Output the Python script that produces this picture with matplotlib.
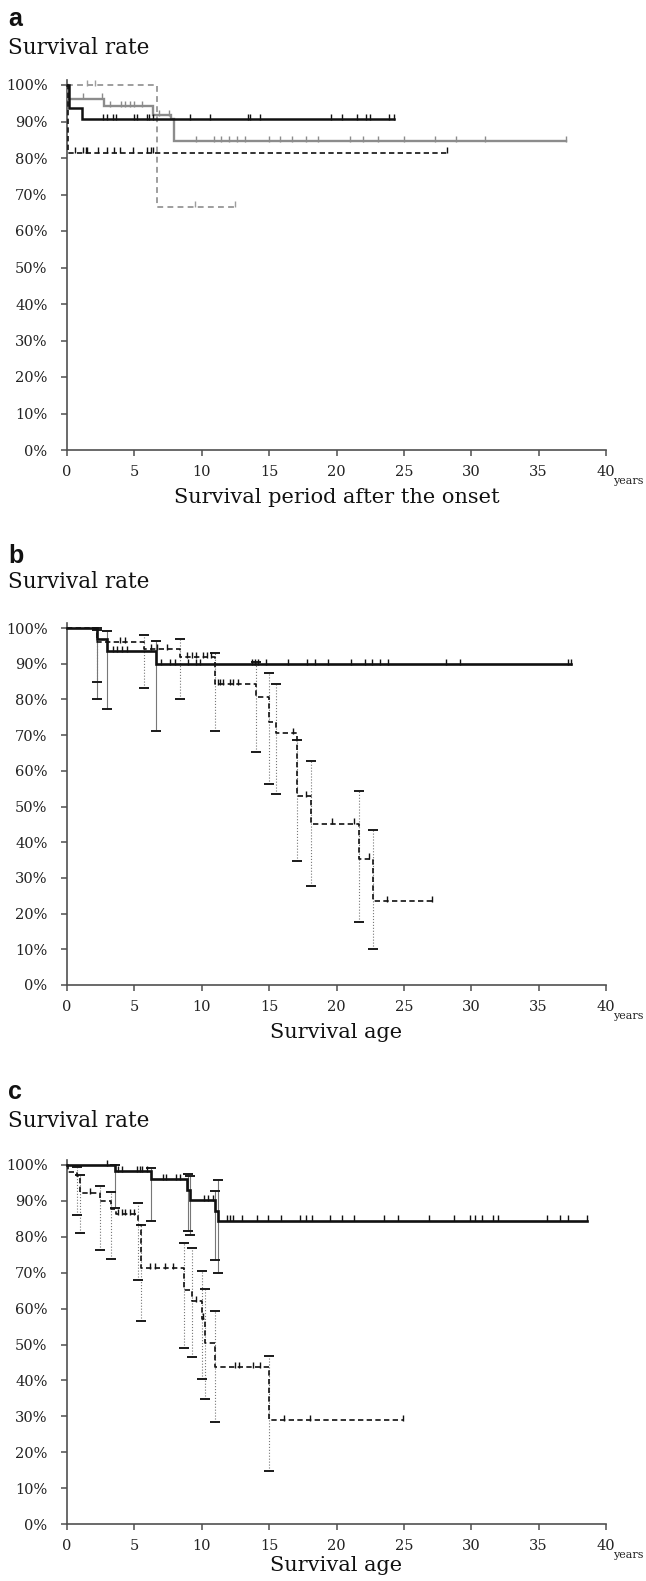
import matplotlib
matplotlib.use("Agg")
import matplotlib.pyplot as plt
import numpy as np

# ---------------- data ----------------
# Panel a
a_black_t = [0, 0.15, 1.15]
a_black_s = [100, 93.8, 90.6]
a_black_end = 24.3
a_black_cens = [2.7, 3.0, 3.4, 3.65, 5.0, 5.2, 5.9, 6.1, 6.4, 9.1, 10.6, 13.4, 13.6, 14.3,
                19.6, 20.4, 21.5, 22.2, 22.5, 23.9, 24.3]
a_gray_t = [0, 0.1, 2.75, 6.4, 7.75, 7.95]
a_gray_s = [100, 96.3, 94.3, 91.7, 90.6, 84.6]
a_gray_end = 37.0
a_gray_cens = [1.2, 2.6, 3.2, 4.0, 4.3, 4.7, 5.0, 5.6, 6.8, 7.6,
               9.6, 10.9, 11.4, 12.0, 12.6, 13.2, 15.0, 15.8, 16.7, 17.7, 18.6,
               21.0, 22.0, 23.1, 25.0, 27.3, 28.9, 31.0, 37.0]
a_bdash_t = [0, 0.1]
a_bdash_s = [100, 81.5]
a_bdash_end = 28.2
a_bdash_cens = [0.6, 1.2, 1.4, 1.5, 2.3, 3.0, 3.5, 3.95, 4.9, 5.9, 6.2, 6.4, 28.2]
a_gdash_t = [0, 6.7]
a_gdash_s = [100, 66.7]
a_gdash_end = 12.5
a_gdash_cens = [1.5, 2.1, 9.5, 12.5]

# Panel b
b_black_t = [0, 2.2, 3.0, 6.6]
b_black_s = [100, 96.9, 93.6, 89.9]
b_black_end = 37.4
b_black_cens = [3.4, 3.7, 4.1, 4.45, 7.0, 7.65, 8.0, 9.0, 9.6, 9.9, 13.7, 13.95, 14.2, 14.8,
                16.4, 17.8, 18.4, 19.4, 21.1, 22.1, 22.6, 23.2, 23.8, 28.1, 29.2, 37.2, 37.4]
b_black_ci_t = [2.2, 3.0, 6.6]
b_black_ci_hi = [100.0, 99.2, 96.3]
b_black_ci_lo = [80.0, 77.3, 71.1]
b_dash_t = [0, 2.2, 5.7, 8.4, 11.0, 14.0, 15.0, 15.5, 17.1, 18.1, 21.7, 22.7]
b_dash_s = [100, 96.0, 94.2, 91.8, 84.3, 80.7, 73.7, 70.5, 52.9, 45.2, 35.4, 23.6]
b_dash_end = 27.2
b_dash_cens = [3.95, 4.3, 6.2, 6.65, 7.4, 8.9, 9.25, 9.6, 10.1, 10.4, 10.7,
               11.2, 11.35, 11.6, 12.1, 12.35, 12.7, 16.8, 17.7, 19.7, 21.3, 22.4, 23.75, 27.1]
b_dash_ci_t = [2.2, 5.7, 8.4, 11.0, 14.0, 15.0, 15.5, 17.1, 18.1, 21.7, 22.7]
b_dash_ci_hi = [99.5, 97.9, 96.9, 93.0, 90.5, 87.3, 84.2, 68.6, 62.8, 54.4, 43.3]
b_dash_ci_lo = [85.0, 83.2, 80.0, 71.1, 65.2, 56.3, 53.5, 34.8, 27.8, 17.6, 10.2]

# Panel c
c_black_t = [0, 3.56, 6.2, 8.9, 9.1, 11.0, 11.2]
c_black_s = [100, 98.3, 96.0, 93.1, 90.3, 87.3, 84.5]
c_black_end = 38.6
c_black_cens = [3.0, 3.75, 4.1, 5.2, 5.45, 5.6, 5.9, 7.1, 7.35, 8.1, 8.4, 10.2, 10.45, 10.8,
                11.85, 12.1, 12.3, 13.0, 14.1, 14.9, 15.9, 17.3, 17.7, 18.2, 19.5, 20.4, 21.3,
                23.5, 24.6, 26.9, 28.7, 29.9, 30.3, 30.8, 31.6, 32.0, 35.6, 36.6, 37.2, 38.6]
c_black_ci_t = [3.56, 6.2, 8.95, 9.1, 11.0, 11.2]
c_black_ci_hi = [100.0, 99.2, 97.6, 96.9, 92.7, 95.8]
c_black_ci_lo = [88.0, 84.4, 81.5, 80.4, 73.4, 69.9]
c_dash_t = [0, 0.1, 0.72, 1.0, 2.45, 3.3, 3.6, 5.3, 5.5, 8.7, 9.25, 10.0, 10.25, 11.0, 15.0]
c_dash_s = [100, 98.1, 96.9, 92.2, 90.0, 87.8, 86.4, 83.3, 71.3, 65.2, 62.2, 57.2, 50.4, 43.8, 29.0]
c_dash_end = 24.9
c_dash_cens = [1.7, 3.8, 4.05, 4.3, 4.7, 4.95, 6.15, 6.5, 7.3, 7.9, 9.6, 10.1,
               12.5, 12.8, 13.8, 14.3, 16.1, 18.0, 24.9]
c_dash_ci_t = [0.72, 1.0, 2.45, 3.3, 5.3, 5.5, 8.7, 9.25, 10.0, 10.25, 11.0, 15.0]
c_dash_ci_hi = [99.4, 97.3, 94.1, 92.5, 89.4, 83.3, 78.4, 76.8, 70.6, 65.4, 59.3, 46.9]
c_dash_ci_lo = [86.2, 81.0, 76.2, 73.9, 68.0, 56.5, 49.0, 46.4, 40.5, 34.7, 28.3, 14.7]

panel_letters = ["a", "b", "c"]
ylabels = ["Survival rate", "Survival rate", "Survival rate"]
xlabels = ["Survival period after the onset", "Survival age", "Survival age"]
xticks = [0, 5, 10, 15, 20, 25, 30, 35, 40]
yticks = [0, 10, 20, 30, 40, 50, 60, 70, 80, 90, 100]

# ---------------- layout ----------------
W, H = 646, 1581
SERIF = ["DejaVu Serif"]
SANS = ["Liberation Sans", "DejaVu Sans"]
BLACK = "#111111"
GRAY = "#8c8c8c"
GDASH = "#9e9e9e"
AXC = "#505050"

fig = plt.figure(figsize=(W / 100, H / 100), dpi=100)

# (pixel y of 0%, pixel y of 100%, letter baseline, ylabel baseline, xlabel pad)
panels_px = [(450, 85, 26, 54, 6), (985, 628, 563, 588, 6), (1524, 1165, 1099, 1127, 2)]
x0px, x40px = 67, 606


def step_val(ts, ss, x):
    idx = np.searchsorted(np.asarray(ts), x, side="right") - 1
    return np.asarray(ss)[np.clip(idx, 0, len(ss) - 1)]


def draw_curve(ax, ts, ss, end, cens, color, lw, dashed=False, dashes=(3.2, 2.0)):
    xs = list(ts) + [end]
    ys = list(ss) + [ss[-1]]
    ln, = ax.step(xs, ys, where="post", color=color, lw=lw, clip_on=False,
                  solid_joinstyle="miter", zorder=4)
    if dashed:
        ln.set_dashes(dashes)
    cy = step_val(ts, ss, np.asarray(cens))
    ax.plot(cens, cy + 0.6, ls="none", marker="|", ms=4.5, mew=1.0, color=color,
            clip_on=False, zorder=5)


def draw_ci(ax, ts, hi, lo, style):
    ax.vlines(ts, lo, hi, colors="#777777", linestyles=style, lw=0.8, zorder=3)
    ax.plot(ts, hi, ls="none", marker="_", ms=7.5, mew=1.4, color="#1a1a1a", zorder=3,
            clip_on=False)
    ax.plot(ts, lo, ls="none", marker="_", ms=7.5, mew=1.4, color="#1a1a1a", zorder=3)


axes = []
for i, (y0, y100, lb, yb, lpad) in enumerate(panels_px):
    ppu = (y0 - y100) / 100.0
    top = y0 - 101.5 * ppu
    ax = fig.add_axes([x0px / W, 1 - y0 / H, (x40px - x0px) / W, (y0 - top) / H])
    ax.set_xlim(0, 40)
    ax.set_ylim(0, 101.5)
    for s in ["top", "right"]:
        ax.spines[s].set_visible(False)
    for s in ["left", "bottom"]:
        ax.spines[s].set_color(AXC)
        ax.spines[s].set_linewidth(1.2)
    ax.set_xticks(xticks)
    ax.set_xticklabels([str(v) for v in xticks], family=SERIF, fontsize=10.5)
    ax.set_yticks(yticks)
    ax.set_yticklabels([f"{v}%" for v in yticks], family=SERIF, fontsize=10.5)
    ax.tick_params(axis="both", direction="out", length=4, width=1.1, color=AXC,
                   labelcolor="#222222")
    ax.tick_params(axis="y", pad=10)
    ax.tick_params(axis="x", pad=7)
    fig.text(8 / W, 1 - lb / H, panel_letters[i], family=SANS, fontsize=18,
             fontweight="bold", va="baseline", ha="left", color="#111111")
    fig.text(8 / W, 1 - yb / H, ylabels[i], family=SERIF, fontsize=15.5,
             va="baseline", ha="left", color="#111111")
    ax.annotate("years", xy=(40, 0), xycoords="data", xytext=(7, -31),
                textcoords="offset pixels", family=SERIF, fontsize=8,
                ha="left", va="center", color="#222222", annotation_clip=False)
    ax.set_xlabel(xlabels[i], family=SERIF, fontsize=15, labelpad=lpad, color="#111111")
    axes.append(ax)

# Panel a
ax = axes[0]
draw_curve(ax, a_gdash_t, a_gdash_s, a_gdash_end, a_gdash_cens, GDASH, 1.4, dashed=True,
           dashes=(3.0, 2.2))
draw_curve(ax, a_gray_t, a_gray_s, a_gray_end, a_gray_cens, GRAY, 1.7)
draw_curve(ax, a_bdash_t, a_bdash_s, a_bdash_end, a_bdash_cens, BLACK, 1.2, dashed=True)
draw_curve(ax, a_black_t, a_black_s, a_black_end, a_black_cens, BLACK, 1.8)

# Panel b
ax = axes[1]
draw_ci(ax, b_black_ci_t, b_black_ci_hi, b_black_ci_lo, "solid")
draw_ci(ax, b_dash_ci_t, b_dash_ci_hi, b_dash_ci_lo, "dotted")
draw_curve(ax, b_dash_t, b_dash_s, b_dash_end, b_dash_cens, BLACK, 1.2, dashed=True)
draw_curve(ax, b_black_t, b_black_s, b_black_end, b_black_cens, BLACK, 1.9)

# Panel c
ax = axes[2]
draw_ci(ax, c_black_ci_t, c_black_ci_hi, c_black_ci_lo, "solid")
draw_ci(ax, c_dash_ci_t, c_dash_ci_hi, c_dash_ci_lo, "dotted")
draw_curve(ax, c_dash_t, c_dash_s, c_dash_end, c_dash_cens, BLACK, 1.2, dashed=True)
draw_curve(ax, c_black_t, c_black_s, c_black_end, c_black_cens, BLACK, 1.9)

fig.savefig("out.png", dpi=100)
